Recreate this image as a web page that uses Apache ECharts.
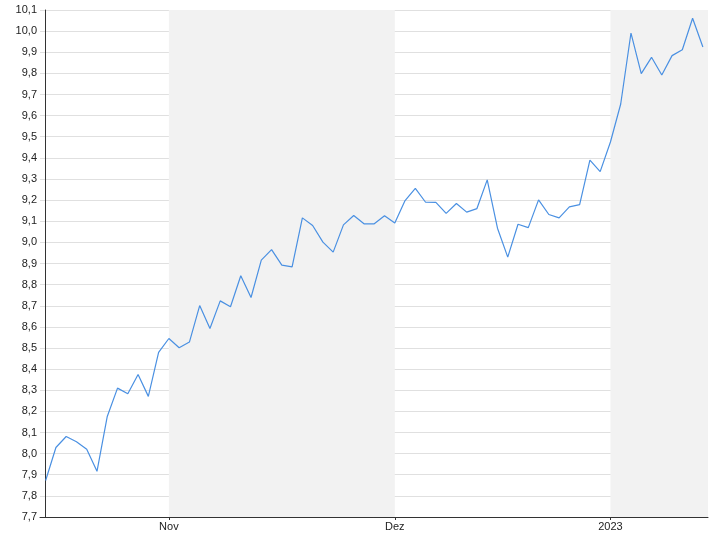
<!DOCTYPE html>
<html>
<head>
<meta charset="utf-8">
<script src="https://cdn.jsdelivr.net/npm/echarts@6/dist/echarts.min.js"></script>
<style>html,body{margin:0;padding:0;background:#fff}#c{width:720px;height:540px}</style>
</head>
<body>
<div id="c"></div>
<script>
// Trading days (category labels)
const dates = [
  '2022-10-14','2022-10-17','2022-10-18','2022-10-19','2022-10-20','2022-10-21','2022-10-24','2022-10-25','2022-10-26','2022-10-27','2022-10-28','2022-10-31',
  '2022-11-01','2022-11-02','2022-11-03','2022-11-04','2022-11-07','2022-11-08','2022-11-09','2022-11-10','2022-11-11','2022-11-14','2022-11-15','2022-11-16','2022-11-17','2022-11-18','2022-11-21','2022-11-22','2022-11-23','2022-11-24','2022-11-25','2022-11-28','2022-11-29','2022-11-30',
  '2022-12-01','2022-12-02','2022-12-05','2022-12-06','2022-12-07','2022-12-08','2022-12-09','2022-12-12','2022-12-13','2022-12-14','2022-12-15','2022-12-16','2022-12-19','2022-12-20','2022-12-21','2022-12-22','2022-12-23','2022-12-27','2022-12-28','2022-12-29','2022-12-30',
  '2023-01-02','2023-01-03','2023-01-04','2023-01-05','2023-01-06','2023-01-09','2023-01-10','2023-01-11','2023-01-12','2023-01-13'
];
const values = [
  7.873, 8.029, 8.081, 8.056, 8.021, 7.916, 8.176, 8.310, 8.283, 8.375, 8.271, 8.479,
  8.545, 8.501, 8.528, 8.701, 8.592, 8.723, 8.695, 8.842, 8.739, 8.916, 8.966, 8.892, 8.884, 9.116, 9.080, 9.001, 8.954, 9.083, 9.127, 9.088, 9.088, 9.126,
  9.092, 9.198, 9.256, 9.190, 9.189, 9.137, 9.184, 9.143, 9.160, 9.296, 9.067, 8.930, 9.086, 9.070, 9.201, 9.132, 9.116, 9.168, 9.179, 9.389, 9.335,
  9.475, 9.655, 9.991, 9.799, 9.876, 9.792, 9.884, 9.912, 10.061, 9.925
];
// x-axis tick labels and the dates they mark
const tickDates = ['2022-11-01', '2022-12-01', '2023-01-02'];
const tickLabels = ['Nov', 'Dez', '2023'];
// shaded month bands [startDate, endDate|null = to end of axis]
const bandStarts = ['2022-11-01', '2023-01-02'];
const bandEnds = ['2022-12-01', null];
// y-axis range
const yMin = 7.7, yMax = 10.1, yStep = 0.1;

const tickIdx = tickDates.map(d => dates.indexOf(d));
const xMax = dates.length - 0.5;
const seriesData = values.map((v, i) => [i, v]);
const bands = bandStarts.map((s, k) => [
  { xAxis: dates.indexOf(s) },
  { xAxis: bandEnds[k] ? dates.indexOf(bandEnds[k]) : xMax }
]);

const chart = echarts.init(document.getElementById('c'), null, { renderer: 'canvas' });
chart.setOption({
  animation: false,
  backgroundColor: '#ffffff',
  grid: { left: 40, right: 12, top: 10, bottom: 23, containLabel: false },
  xAxis: {
    type: 'value',
    min: -0.55,
    max: xMax,
    splitLine: { show: false },
    axisLine: { show: true, onZero: false, lineStyle: { color: '#333333', width: 1 } },
    axisTick: { show: true, length: 3, customValues: tickIdx, lineStyle: { color: '#333333' } },
    axisLabel: {
      customValues: tickIdx,
      formatter: v => tickLabels[tickIdx.indexOf(Math.round(v))] || '',
      color: '#222222', fontFamily: 'Liberation Sans, Arial, sans-serif', fontSize: 11, margin: 4
    }
  },
  yAxis: {
    type: 'value',
    min: yMin,
    max: yMax,
    interval: yStep,
    axisLine: { show: true, lineStyle: { color: '#333333', width: 1 } },
    axisTick: { show: false },
    splitLine: { show: true, lineStyle: { color: '#e0e0e0', width: 1 } },
    axisLabel: {
      formatter: v => v.toFixed(1).replace('.', ','),
      color: '#222222', fontFamily: 'Liberation Sans, Arial, sans-serif', fontSize: 11, margin: 3
    }
  },
  series: [{
    type: 'line',
    data: seriesData,
    showSymbol: false,
    symbol: 'none',
    lineStyle: { color: '#4a90e2', width: 1.2 },
    itemStyle: { color: '#4a90e2' },
    z: 3,
    markArea: {
      silent: true,
      itemStyle: { color: '#f2f2f2' },
      data: bands
    }
  }]
});
</script>
</body>
</html>
